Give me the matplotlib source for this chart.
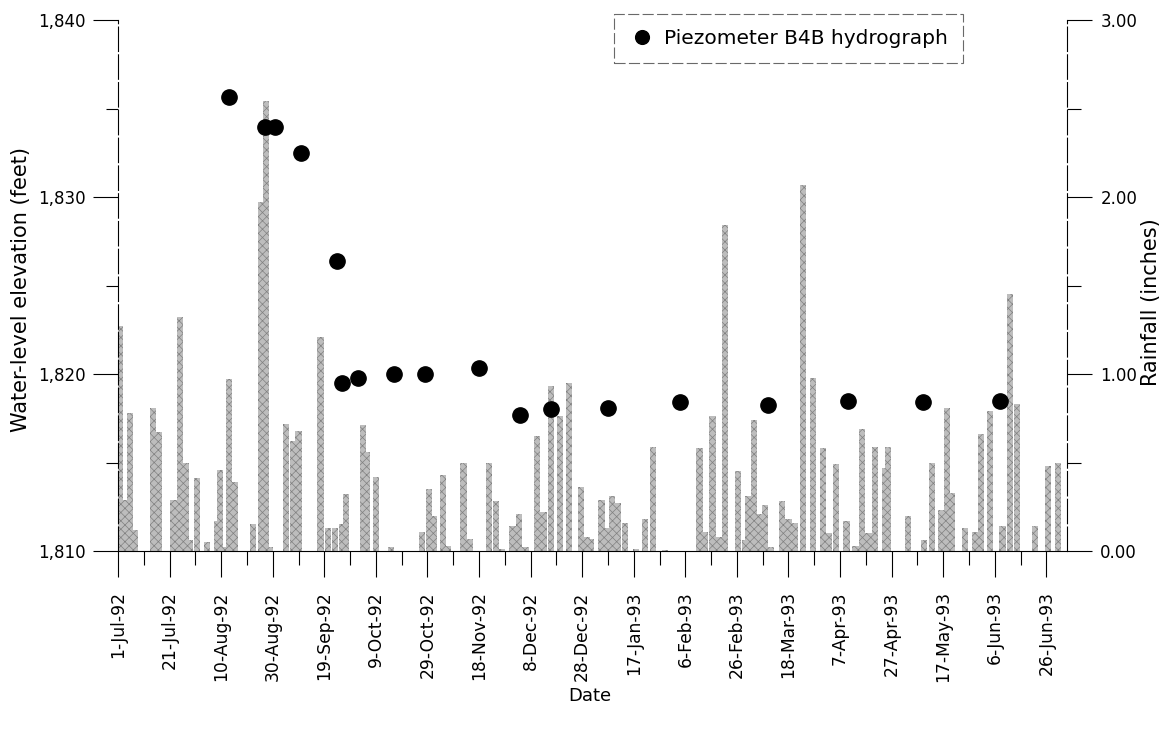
import numpy as np
import matplotlib
matplotlib.use('Agg')
import matplotlib.pyplot as plt
import matplotlib.dates as mdates
from matplotlib.ticker import FixedLocator, FuncFormatter
from datetime import datetime, timedelta

plt.rcParams['font.family'] = ['DejaVu Sans']
plt.rcParams['hatch.linewidth'] = 0.5
plt.rcParams['hatch.color'] = '#7a7a7a'

start = datetime(1992, 7, 1)
end = datetime(1993, 7, 4)

# Piezometer B4B water levels (days since 1-Jul-92, feet)
piezo_day = [43, 57, 61, 71, 85, 87, 93, 107, 119, 140, 156, 168, 190, 218, 252, 283, 312, 342]
piezo_elev = [1835.65, 1833.95, 1833.95, 1832.5, 1826.4, 1819.5, 1819.8, 1820.0, 1820.0,
              1820.35, 1817.7, 1818.0, 1818.1, 1818.4, 1818.25, 1818.5, 1818.4, 1818.5]

# Daily rainfall (days since 1-Jul-92, inches)
rain_day = [0.8, 2.3, 4.7, 6.5, 13.5, 16, 21.5, 24, 26.5, 28, 30.5, 34.5, 38.5, 39.5, 41,
            43, 45.5, 52.5, 55.5, 57.5, 59, 65, 68, 70, 78.5, 81.5, 84, 87, 88.5,
            95, 96.5, 100, 106, 118, 120.5, 122.5, 126, 128, 134, 136.5, 144, 146.5, 149,
            153, 155.5, 158, 162.5, 165, 168, 171.5, 175, 179.5, 182, 183.5,
            187.5, 189.5, 191.5, 194, 196.5, 201, 204.5, 207.5, 212, 225.5, 227.5, 230.5,
            233, 235.5, 240.5, 243, 244.5, 246.5, 249, 251, 253, 257.5, 260, 262.5,
            265.5, 269.5, 273.5, 275.5, 278.5, 282.5, 286, 288.5, 291, 293.5, 297.5, 298.5,
            306.5, 312.5, 315.5, 319, 321.5, 323.5, 328.5, 332.5, 334.5, 338, 343, 346,
            348.5, 355.5, 360.5, 364.5]
rain_in = [1.27, 0.29, 0.78, 0.12, 0.81, 0.67, 0.29, 1.32, 0.50, 0.06, 0.41, 0.05, 0.17, 0.46, 0.02,
           0.97, 0.39, 0.15, 1.97, 2.54, 0.02, 0.72, 0.62, 0.68, 1.21, 0.13, 0.13, 0.15, 0.32,
           0.71, 0.56, 0.42, 0.025, 0.11, 0.35, 0.20, 0.43, 0.03, 0.50, 0.066, 0.50, 0.28, 0.01,
           0.14, 0.21, 0.02, 0.65, 0.22, 0.93, 0.76, 0.95, 0.36, 0.08, 0.07,
           0.29, 0.13, 0.31, 0.27, 0.16, 0.01, 0.18, 0.59, 0.005, 0.58, 0.11, 0.76,
           0.08, 1.84, 0.45, 0.06, 0.31, 0.74, 0.21, 0.26, 0.02, 0.28, 0.18, 0.16,
           2.07, 0.98, 0.58, 0.10, 0.49, 0.17, 0.03, 0.69, 0.10, 0.59, 0.47, 0.59,
           0.20, 0.06, 0.50, 0.23, 0.81, 0.33, 0.13, 0.11, 0.66, 0.79, 0.14, 1.45,
           0.83, 0.14, 0.48, 0.50]

tick_labels = ['1-Jul-92', '21-Jul-92', '10-Aug-92', '30-Aug-92', '19-Sep-92', '9-Oct-92',
               '29-Oct-92', '18-Nov-92', '8-Dec-92', '28-Dec-92', '17-Jan-93', '6-Feb-93',
               '26-Feb-93', '18-Mar-93', '7-Apr-93', '27-Apr-93', '17-May-93', '6-Jun-93',
               '26-Jun-93']

piezo_dates = [start + timedelta(days=d) for d in piezo_day]
rain_dates = [start + timedelta(days=d) for d in rain_day]
tick_dates = [datetime.strptime(t, '%d-%b-%y') for t in tick_labels]
minor_dates = [d + timedelta(days=10) for d in tick_dates]

fig = plt.figure(figsize=(11.68, 7.29), dpi=100)
ax = fig.add_axes([118/1168, 1 - 551/729, (1067-118)/1168, (551-20)/729])
ax2 = ax.twinx()
ax.set_zorder(ax2.get_zorder() + 1)
ax.patch.set_visible(False)

ax2.bar(rain_dates, rain_in, width=2.4, facecolor='#bdbdbd', edgecolor='#808080',
        hatch='xxxx', linewidth=0, align='center')
ax.plot(piezo_dates, piezo_elev, 'o', color='black', markersize=11,
        label='Piezometer B4B hydrograph', linestyle='none')

ax.set_xlim(start, end)
ax.set_ylim(1810, 1840)
ax2.set_ylim(0, 3)

dash = (0, (22, 3))
for s in ['top', 'right']:
    ax.spines[s].set_visible(False)
for s in ['top', 'left', 'bottom']:
    ax2.spines[s].set_visible(False)
ax.spines['left'].set_linestyle(dash)
ax.spines['left'].set_linewidth(0.8)
ax.spines['bottom'].set_linewidth(0.8)
ax2.spines['right'].set_linestyle(dash)
ax2.spines['right'].set_linewidth(0.8)

ax.xaxis.set_major_locator(FixedLocator(mdates.date2num(tick_dates)))
ax.set_xticklabels(tick_labels, rotation=90, fontsize=12.3)
ax.xaxis.set_minor_locator(FixedLocator(mdates.date2num(minor_dates)))
ax.tick_params(axis='x', which='major', direction='out', length=19, width=0.8, pad=10)
ax.tick_params(axis='x', which='minor', direction='out', length=10, width=0.8)

ax.set_yticks([1810, 1820, 1830, 1840])
ax.set_yticks([1815, 1825, 1835], minor=True)
ax.yaxis.set_major_formatter(FuncFormatter(lambda v, p: f'{v:,.0f}'))
ax.tick_params(axis='y', which='major', direction='out', length=18, width=0.8, pad=5, labelsize=12)
ax.tick_params(axis='y', which='minor', direction='out', length=9, width=0.8)

ax2.set_yticks([0, 1, 2, 3])
ax2.set_yticks([0.5, 1.5, 2.5], minor=True)
ax2.yaxis.set_major_formatter(FuncFormatter(lambda v, p: f'{v:.2f}'))
ax2.tick_params(axis='y', which='major', direction='out', length=18, width=0.8, pad=6, labelsize=12)
ax2.tick_params(axis='y', which='minor', direction='out', length=10, width=0.8)

ax.set_ylabel('Water-level elevation (feet)', fontsize=15)
ax.yaxis.set_label_coords(-0.0917, 0.493)
ax2.set_ylabel('Rainfall (inches)', fontsize=15)
ax2.yaxis.set_label_coords(1.0775, 0.469)
ax.set_xlabel('Date', fontsize=13)
ax.xaxis.set_label_coords(0.497, -0.256)

leg = ax.legend(loc='upper left', bbox_to_anchor=(0.5227, 1.012), fontsize=14.5,
                frameon=True, fancybox=False, borderpad=0.75, handletextpad=0.45,
                markerscale=0.9, handlelength=1.3, borderaxespad=0)
fr = leg.get_frame()
fr.set_edgecolor('#444444')
fr.set_linewidth(0.8)
fr.set_linestyle((0, (10, 3)))

fig.savefig('out.png', dpi=100)
